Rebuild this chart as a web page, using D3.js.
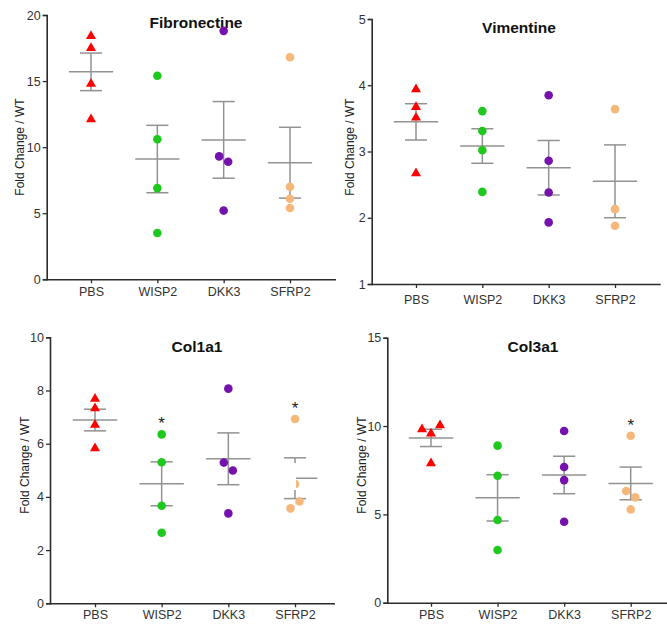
<!DOCTYPE html>
<html>
<head>
<meta charset="utf-8">
<script src="https://cdn.jsdelivr.net/npm/d3@7"></script>
<style>
body { margin: 0; background: #fff; }
svg { display: block; font-family: "Liberation Sans", Arial, sans-serif; }
</style>
</head>
<body>
<svg id="chart" width="667" height="624"></svg>
<script>
var categories = ["PBS", "WISP2", "DKK3", "SFRP2"];

// values per group (one array per category)
var fibronectine = [
	[18.4, 17.5, 14.8, 12.1],
	[15.4, 10.6, 6.9, 3.5],
	[18.8, 9.3, 8.9, 5.2],
	[16.8, 7.0, 6.1, 5.4]
];
var vimentine = [
	[3.94, 3.67, 3.51, 2.67],
	[3.61, 3.31, 3.02, 2.39],
	[3.85, 2.86, 2.38, 1.93],
	[3.64, 2.13, 1.88]
];
var col1a1 = [
	[7.69, 7.33, 6.71, 5.83],
	[6.35, 5.3, 3.67, 2.65],
	[8.07, 5.29, 4.99, 3.38],
	[6.93, 4.48, 3.57, 3.83]
];
var col3a1 = [
	[9.81, 9.57, 10.04, 7.89],
	[8.89, 7.19, 4.68, 2.98],
	[9.72, 7.68, 6.94, 4.58],
	[9.45, 6.32, 5.96, 5.28]
];

var fibTicks = [0, 5, 10, 15, 20];
var vimTicks = [1, 2, 3, 4, 5];
var col1Ticks = [0, 2, 4, 6, 8, 10];
var col3Ticks = [0, 5, 10, 15];

var col1Stars = ["WISP2", "SFRP2"];
var col3Stars = ["SFRP2"];

var colors = ["#ff0000", "#1ec81e", "#7512ad", "#f5b77a"];

var panels = [
	{ title: "Fibronectine", data: fibronectine, ticks: fibTicks, stars: [],
	  ax: 46.7, axEnd: 336, xr: [91, 290], yr: [279.3, 15], titleX: 196, titleY: 28,
	  labX: 20, labY: 147, catPad: 8 },
	{ title: "Vimentine", data: vimentine, ticks: vimTicks, stars: [],
	  ax: 371.7, axEnd: 660.7, xr: [416, 615], yr: [284, 19], titleX: 519, titleY: 33,
	  labX: 350, labY: 147, catPad: 11 },
	{ title: "Col1a1", data: col1a1, ticks: col1Ticks, stars: col1Stars,
	  ax: 50, axEnd: 335, xr: [95, 295], yr: [603.3, 337.3], titleX: 197, titleY: 352,
	  labX: 25, labY: 465, catPad: 7,
	  mask: { cat: "SFRP2", dx0: -33, dx1: 1, v0: 5.27, v1: 4.26 } },
	{ title: "Col3a1", data: col3a1, ticks: col3Ticks, stars: col3Stars,
	  ax: 387.3, axEnd: 667, xr: [431, 630.7], yr: [602.7, 337.7], titleX: 533, titleY: 352,
	  labX: 361.7, labY: 465, catPad: 7.5 }
];

var svg = d3.select("#chart");

panels.forEach(function (p) {
	var g = svg.append("g");

	var x = d3.scalePoint().domain(categories).range(p.xr);
	var y = d3.scaleLinear().domain(d3.extent(p.ticks)).range(p.yr);
	var step = x.step();

	// y axis
	var yAxis = g.append("g")
		.attr("transform", "translate(" + p.ax + ",0)")
		.call(d3.axisLeft(y).tickValues(p.ticks).tickSize(4).tickPadding(2).tickFormat(d3.format("d")));

	// x axis
	var xAxis = g.append("g")
		.attr("transform", "translate(0," + p.yr[0] + ")")
		.call(d3.axisBottom(x).tickSize(4).tickPadding(p.catPad - 4));
	xAxis.select(".domain").attr("d", "M" + p.ax + ",0.5H" + p.axEnd);

	[yAxis, xAxis].forEach(function (a) {
		a.select(".domain").attr("stroke", "#2b2b2b").attr("stroke-width", 1.6);
		a.selectAll(".tick line").attr("stroke", "#2b2b2b").attr("stroke-width", 1.3);
		a.selectAll(".tick text").attr("fill", "#333").style("font-size", "12.5px")
			.style("font-family", "'Liberation Sans', Arial, sans-serif");
	});
	yAxis.selectAll(".tick text").style("font-size", "12.5px");

	// title
	g.append("text")
		.attr("x", p.titleX)
		.attr("y", p.titleY)
		.attr("text-anchor", "middle")
		.style("font-size", "15.5px")
		.style("font-weight", "bold")
		.attr("fill", "#111")
		.text(p.title);

	// y label
	g.append("text")
		.attr("transform", "translate(" + p.labX + "," + p.labY + ") rotate(-90)")
		.attr("text-anchor", "middle")
		.attr("dy", "0.35em")
		.style("font-size", "12px")
		.attr("fill", "#222")
		.text("Fold Change / WT");

	var groups = p.data.map(function (vals, i) {
		var m = d3.mean(vals);
		var sem = d3.deviation(vals) / Math.sqrt(vals.length);
		return { cat: categories[i], vals: vals, mean: m, sem: sem, color: colors[i], tri: i === 0 };
	});

	// mean and SEM bars
	var bars = g.append("g")
		.attr("stroke", "#929292")
		.attr("stroke-width", 1.5)
		.attr("fill", "none");

	groups.forEach(function (d) {
		var cx = x(d.cat);
		var hi = y(d.mean + d.sem), lo = y(d.mean - d.sem);
		bars.append("line").attr("x1", cx).attr("x2", cx).attr("y1", hi).attr("y2", lo);
		bars.append("line").attr("x1", cx - step / 3).attr("x2", cx + step / 3)
			.attr("y1", y(d.mean)).attr("y2", y(d.mean));
		bars.append("line").attr("x1", cx - step / 6).attr("x2", cx + step / 6)
			.attr("y1", hi).attr("y2", hi);
		bars.append("line").attr("x1", cx - step / 6).attr("x2", cx + step / 6)
			.attr("y1", lo).attr("y2", lo);
	});

	// points, nudged sideways when they overlap
	groups.forEach(function (d) {
		var cx = x(d.cat);
		var order = d3.range(d.vals.length).sort(function (a, b) { return d.vals[b] - d.vals[a]; });
		var clusters = [];
		order.forEach(function (k, j) {
			if (j > 0 && Math.abs(y(d.vals[k]) - y(d.vals[order[j - 1]])) < 8.5) {
				clusters[clusters.length - 1].push(k);
			} else {
				clusters.push([k]);
			}
		});
		var dx = d.vals.map(function () { return 0; });
		clusters.forEach(function (c) {
			c.sort(d3.ascending);
			c.forEach(function (k, j) { dx[k] = (j - (c.length - 1) / 2) * 9; });
		});

		g.append("g").selectAll("path")
			.data(d.vals)
			.enter().append("path")
			.attr("transform", function (v, k) {
				return "translate(" + (cx + dx[k]) + "," + y(v) + ")";
			})
			.attr("d", d3.symbol().type(d.tri ? d3.symbolTriangle : d3.symbolCircle).size(d.tri ? 44 : 58))
			.attr("fill", d.color);
	});

	// significance stars, just above the highest point
	p.stars.forEach(function (c) {
		var i = categories.indexOf(c);
		var top = y(d3.max(p.data[i]));
		g.append("text")
			.attr("x", x(c))
			.attr("y", top - 5)
			.attr("text-anchor", "middle")
			.style("font-size", "17px")
			.attr("fill", "#222")
			.text("*");
	});

	// white patch over part of the SFRP2 bar in the source image
	if (p.mask) {
		var mx = x(p.mask.cat);
		g.append("rect")
			.attr("x", mx + p.mask.dx0)
			.attr("y", y(p.mask.v0))
			.attr("width", p.mask.dx1 - p.mask.dx0)
			.attr("height", y(p.mask.v1) - y(p.mask.v0))
			.attr("fill", "#fff");
	}
});
</script>
</body>
</html>
